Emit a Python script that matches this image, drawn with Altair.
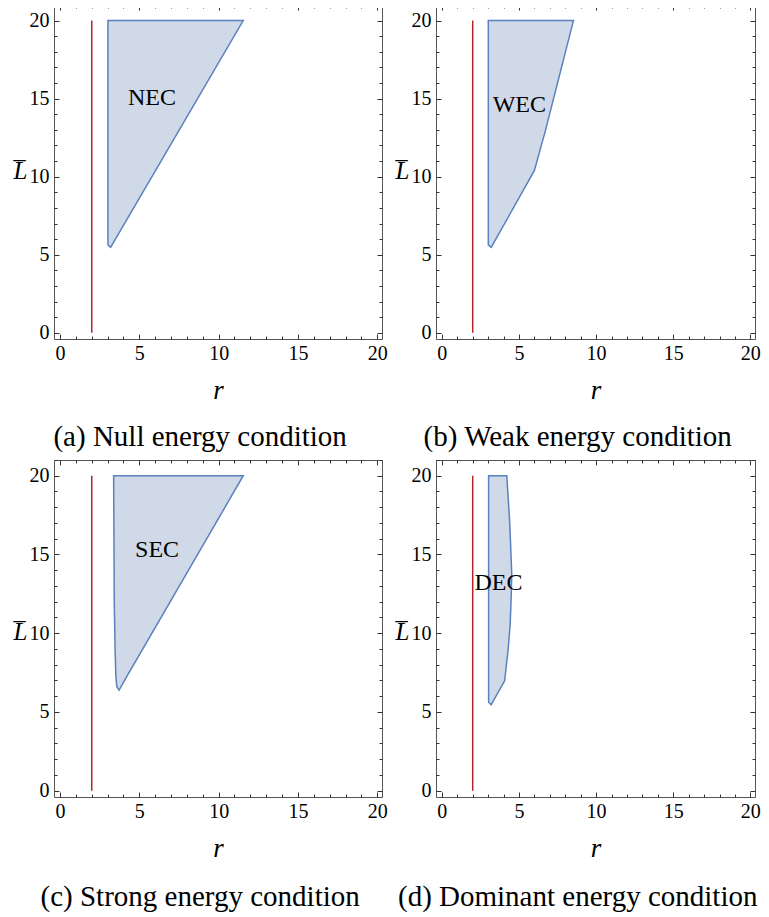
import altair as alt
import pandas as pd

# ---------------- data ----------------
MAJOR_TICKS = [0, 5, 10, 15, 20]
MINOR_TICKS = [i for i in range(0, 22) if i % 5]

HORIZON_R = [2.0]
HORIZON_L0 = [0.0]
HORIZON_L1 = [20.0]

# region boundaries: rows (Lbar, r_left, r_right)
NEC_L = [5.47, 5.63, 20.0]
NEC_RL = [3.19, 3.02, 3.02]
NEC_RR = [3.19, 3.28, 11.55]

WEC_L = [5.47, 5.63, 10.4, 12.9, 20.0]
WEC_RL = [3.20, 3.01, 3.01, 3.01, 3.01]
WEC_RR = [3.20, 3.29, 6.00, 6.70, 8.53]

SEC_L = [6.39, 6.60, 7.30, 9.00, 12.0, 20.0]
SEC_RL = [3.72, 3.58, 3.52, 3.47, 3.42, 3.38]
SEC_RR = [3.72, 3.84, 4.24, 5.22, 6.95, 11.55]

DEC_L = [5.46, 5.62, 6.98, 9.00, 10.6, 12.5, 13.8, 17.0, 20.0]
DEC_RL = [3.20, 3.03, 3.03, 3.03, 3.03, 3.03, 3.03, 3.03, 3.03]
DEC_RR = [3.20, 3.29, 4.07, 4.30, 4.43, 4.50, 4.53, 4.40, 4.21]

LABELS = ["NEC", "WEC", "SEC", "DEC"]
LABEL_R = [5.8, 5.02, 6.12, 3.67]
LABEL_L = [15.05, 14.58, 15.3, 13.16]

CAPTIONS = [
    "(a) Null energy condition",
    "(b) Weak energy condition",
    "(c) Strong energy condition",
    "(d) Dominant energy condition",
]

FONT = "Liberation Serif"
FILL = "#cfd9e8"
EDGE = "#5b80c0"
RED = "#b5232b"
TICK = "#333333"

X_DOMAIN = [-0.38, 20.3]
Y_DOMAIN = [-0.40, 21.0]


def axis(orient, values, size, **kw):
    return alt.Axis(
        orient=orient, values=values, tickSize=size, offset=-size,
        domain=False, grid=False, ticks=True, tickColor=TICK, tickWidth=1,
        labelFlush=False, **kw
    )


def panel(L, rl, rr, idx, width, height, title_y, cap_offset):
    xs = alt.Scale(domain=X_DOMAIN, nice=False, zero=False)
    ys = alt.Scale(domain=Y_DOMAIN, nice=False, zero=False)
    region = pd.DataFrame({"L": L, "rl": rl, "rr": rr})
    horizon = pd.DataFrame({"r": HORIZON_R, "L0": HORIZON_L0, "L1": HORIZON_L1})
    lab = pd.DataFrame({"r": [LABEL_R[idx]], "L": [LABEL_L[idx]], "t": [LABELS[idx]]})

    lab_kw = dict(labelFont=FONT, labelFontSize=20, labelColor="black")

    area = alt.Chart(region).mark_area(
        orient="horizontal", fill=FILL, stroke=EDGE, strokeWidth=1.5
    ).encode(
        y=alt.Y("L:Q", scale=ys, axis=axis(
            "left", MAJOR_TICKS, 5, labels=True, labelPadding=5, **lab_kw,
            title="L\u0305", titleFont=FONT, titleFontSize=25, titleFontStyle="italic",
            titleFontWeight="normal", titleColor="black", titleAngle=0,
            titleAlign="center", titleBaseline="middle", titleX=-39, titleY=title_y)),
        x=alt.X("rl:Q", scale=xs, axis=axis(
            "bottom", MAJOR_TICKS, 5, labels=True, labelPadding=4, **lab_kw,
            title="r", titleFont=FONT, titleFontSize=27, titleFontStyle="italic",
            titleFontWeight="normal", titleColor="black", titlePadding=14)),
        x2="rr:Q",
    )

    rule = alt.Chart(horizon).mark_rule(color=RED, strokeWidth=1.5).encode(
        x=alt.X("r:Q", scale=xs, axis=axis("bottom", MINOR_TICKS, 3, labels=False, title=None)),
        y=alt.Y("L0:Q", scale=ys, axis=axis("left", MINOR_TICKS, 3, labels=False, title=None)),
        y2="L1:Q",
    )

    text = alt.Chart(lab).mark_text(
        font=FONT, fontSize=24, color="black", align="center", baseline="middle"
    ).encode(
        x=alt.X("r:Q", scale=xs, axis=axis("top", MAJOR_TICKS, 5, labels=False, title=None)),
        y=alt.Y("L:Q", scale=ys, axis=axis("right", MAJOR_TICKS, 5, labels=False, title=None)),
        text="t:N",
    )

    ghost = alt.Chart(lab).mark_point(opacity=0).encode(
        x=alt.X("r:Q", scale=xs, axis=axis("top", MINOR_TICKS, 3, labels=False, title=None)),
        y=alt.Y("L:Q", scale=ys, axis=axis("right", MINOR_TICKS, 3, labels=False, title=None)),
    )

    return alt.layer(area, rule, text, ghost).resolve_axis(
        x="independent", y="independent"
    ).properties(
        width=width, height=height,
        title=alt.TitleParams(
            text=CAPTIONS[idx], orient="bottom", anchor="middle", frame="bounds",
            font=FONT, fontSize=29, fontWeight="normal", color="black",
            offset=cap_offset),
    )


WL = 328
WR = 319
H_TOP = 334
H_BOT = 337

p_a = panel(NEC_L, NEC_RL, NEC_RR, 0, WL, H_TOP, 165.5, 20)
p_b = panel(WEC_L, WEC_RL, WEC_RR, 1, WR, H_TOP, 165.5, 20)
p_c = panel(SEC_L, SEC_RL, SEC_RR, 2, WL, H_BOT, 171, 22)
p_d = panel(DEC_L, DEC_RL, DEC_RR, 3, WR, H_BOT, 171, 22)

chart = alt.concat(
    p_a, p_b, p_c, p_d, columns=2,
    spacing={"row": 121, "column": 54}, bounds="flush",
).properties(
    padding={"left": 4, "top": -4, "right": 0, "bottom": 2}
).configure_view(stroke="#555555", strokeWidth=1)

chart.save("out.html", embed_options={"renderer": "svg", "actions": False})
